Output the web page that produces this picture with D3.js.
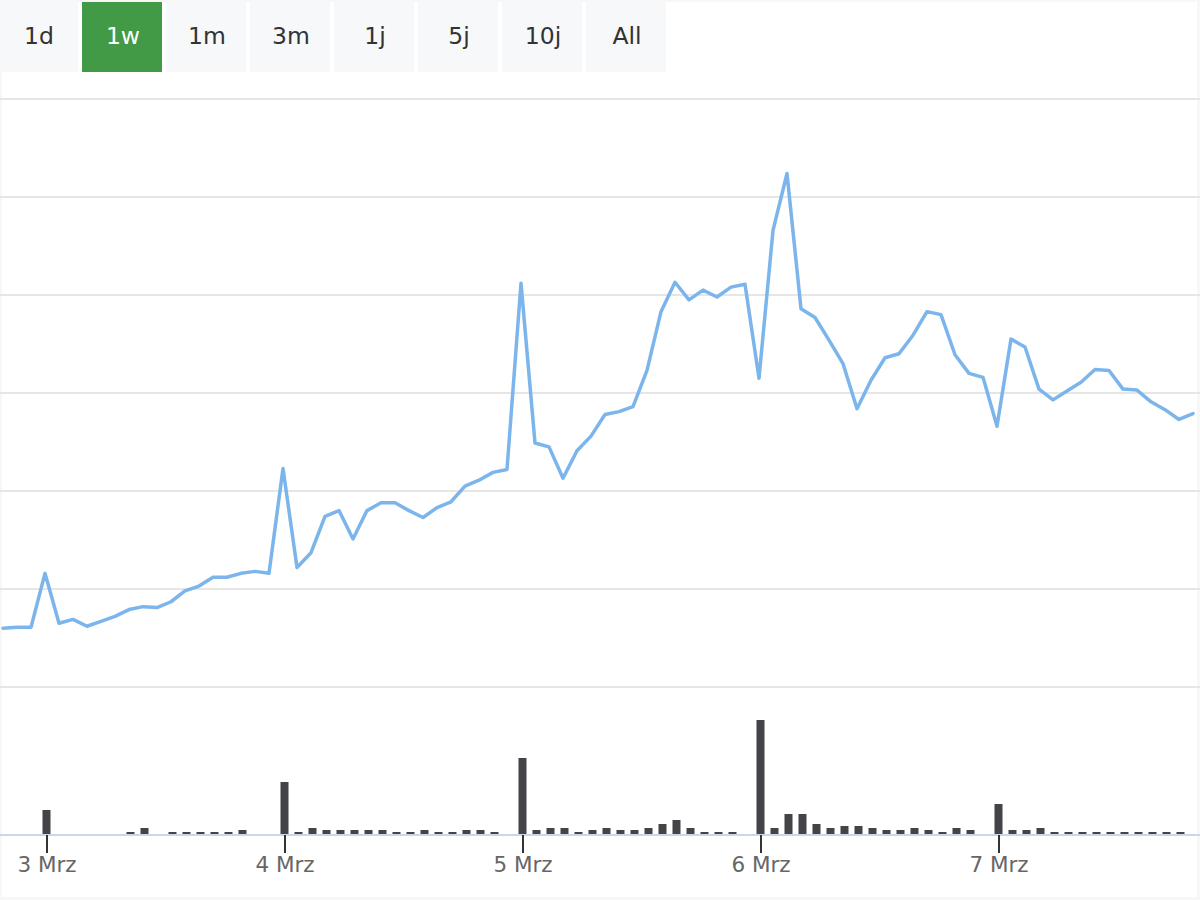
<!DOCTYPE html>
<html>
<head>
<meta charset="utf-8">
<script src="https://cdn.jsdelivr.net/npm/d3@7"></script>
<style>
  html, body { margin: 0; padding: 0; background: #f7f7f7; }
  svg { display: block; }
  text { font-family: "DejaVu Sans", sans-serif; }
</style>
</head>
<body>
<svg id="chart" width="1200" height="900"></svg>
<script>
// ---- data ----
const rangeButtons = ["1d", "1w", "1m", "3m", "1j", "5j", "10j", "All"];
const activeButton = "1w";
const dayTickIndex = [3, 20, 37, 54, 71];
const dayTickLabels = ["3 Mrz", "4 Mrz", "5 Mrz", "6 Mrz", "7 Mrz"];
const gridValues = [0, 1, 2, 3, 4, 5, 6];
const priceValues = [
  0.60, 0.61, 0.61, 1.16, 0.65, 0.69, 0.62, 0.67, 0.72, 0.79,
  0.82, 0.81, 0.87, 0.98, 1.03, 1.12, 1.12, 1.16, 1.18, 1.16,
  2.23, 1.22, 1.37, 1.74, 1.80, 1.51, 1.80, 1.88, 1.88, 1.80,
  1.73, 1.83, 1.89, 2.05, 2.11, 2.19, 2.22, 4.12, 2.49, 2.45,
  2.13, 2.41, 2.56, 2.78, 2.81, 2.86, 3.23, 3.83, 4.13, 3.95,
  4.05, 3.98, 4.08, 4.11, 3.15, 4.66, 5.24, 3.86, 3.77, 3.54,
  3.30, 2.84, 3.13, 3.36, 3.40, 3.59, 3.83, 3.80, 3.39, 3.20,
  3.16, 2.66, 3.55, 3.47, 3.04, 2.93, 3.02, 3.11, 3.24, 3.23,
  3.04, 3.03, 2.91, 2.83, 2.73, 2.79
];
const volumeValues = [
  0, 0, 0, 12, 0, 0, 0, 0, 0, 1,
  3, 0, 1, 1, 1, 1, 1, 2, 0, 0,
  26, 1, 3, 2, 2, 2, 2, 2, 1, 1,
  2, 1, 1, 2, 2, 1, 0, 38, 2, 3,
  3, 1, 2, 3, 2, 2, 3, 5, 7, 3,
  1, 1, 1, 0, 57, 3, 10, 10, 5, 3,
  4, 4, 3, 2, 2, 3, 2, 1, 3, 2,
  0, 15, 2, 2, 3, 1, 1, 1, 1, 1,
  1, 1, 1, 1, 1, 0
];

// ---- drawing ----
const svg = d3.select("#chart");
const W = 1200, H = 900;

svg.append("rect").attr("x", 2).attr("y", 2).attr("width", 1195).attr("height", 895).attr("fill", "#ffffff");

// buttons
const btnX = d3.scalePoint().domain(rangeButtons).range([-2, -2 + 84 * (rangeButtons.length - 1)]);
const btn = svg.append("g").selectAll("g").data(rangeButtons).join("g")
  .attr("transform", d => `translate(${btnX(d)},2)`);
btn.append("rect").attr("width", 80).attr("height", 70)
  .attr("fill", d => d === activeButton ? "#439a46" : "#f7f8fa");
btn.append("text").attr("x", 41).attr("y", 34).attr("dy", "0.35em")
  .attr("text-anchor", "middle").attr("font-size", 23.5)
  .attr("fill", d => d === activeButton ? "#ffffff" : "#333333")
  .text(d => d);

// scales
const x = d3.scaleLinear().domain([0, priceValues.length - 1]).range([4.5, 4.5 + 14 * (priceValues.length - 1)]);
const y = d3.scaleLinear().domain([0, 6]).range([687, 99]);
const yv = d3.scaleLinear().domain([0, 57]).range([834, 720]);

// grid
svg.append("g").selectAll("line").data(gridValues).join("line")
  .attr("x1", 0).attr("x2", W)
  .attr("y1", d => y(d)).attr("y2", d => y(d))
  .attr("stroke", "#e6e6e6").attr("stroke-width", 2);

// volume bars
svg.append("g").selectAll("rect").data(volumeValues.map((v, i) => ({v, i})).filter(d => d.v > 0)).join("rect")
  .attr("x", d => x(d.i) - 4)
  .attr("width", 8)
  .attr("y", d => yv(d.v))
  .attr("height", d => yv(0) - yv(d.v))
  .attr("fill", "#434348");

// x axis
svg.append("line").attr("x1", 0).attr("x2", W).attr("y1", 835).attr("y2", 835)
  .attr("stroke", "#ccd6eb").attr("stroke-width", 2);
const xAxis = d3.axisBottom(x).tickValues(dayTickIndex)
  .tickFormat((d, i) => dayTickLabels[i]).tickSize(18).tickPadding(4);
const gx = svg.append("g").attr("transform", "translate(0,835)").call(xAxis);
gx.select(".domain").remove();
gx.selectAll(".tick line").attr("stroke", "#333333").attr("stroke-width", 2);
gx.selectAll(".tick text").attr("font-size", 21.5).attr("fill", "#666666")
  .attr("font-family", "DejaVu Sans, sans-serif");

// price line
const line = d3.line().x((d, i) => x(i) - 1.5).y(d => y(d));
svg.append("path").datum(priceValues)
  .attr("d", line)
  .attr("fill", "none")
  .attr("stroke", "#7cb5ec")
  .attr("stroke-width", 3.5)
  .attr("stroke-linejoin", "round")
  .attr("stroke-linecap", "round");
</script>
</body>
</html>
